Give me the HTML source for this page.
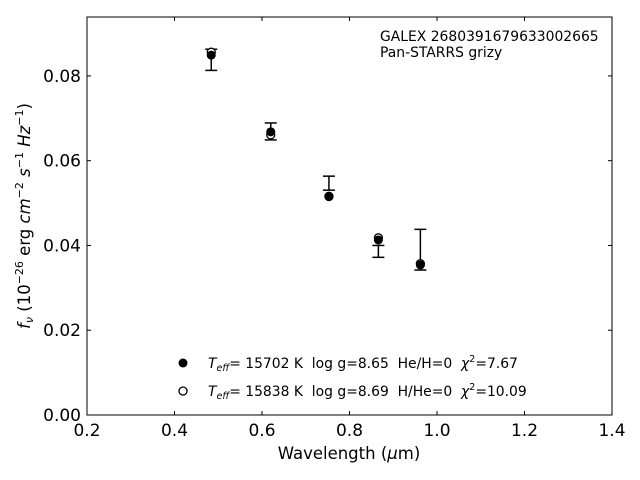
<!DOCTYPE html>
<html><head><meta charset="utf-8"><style>
html,body{margin:0;padding:0;background:#fff;}
svg{display:block;font-family:"DejaVu Sans","Liberation Sans",sans-serif;}
</style></head><body>
<svg id="chart" width="640" height="480" viewBox="0 0 640 480">
<rect x="87" y="17" width="525" height="398" fill="none" stroke="#000" stroke-width="1"/>
<g id="ticks"></g>
<g id="marks"></g>
<text x="349" y="459" font-size="16.5" text-anchor="middle">Wavelength (<tspan font-style="italic">μ</tspan>m)</text>
<text transform="translate(30,216) rotate(-90)" font-size="16.5" text-anchor="middle"><tspan font-style="italic">f<tspan font-size="11" dy="3">ν</tspan></tspan><tspan dy="-3"> (10</tspan><tspan font-size="11" dy="-7">−26</tspan><tspan dy="7"> erg </tspan><tspan font-style="italic">cm</tspan><tspan font-size="11" dy="-7">−2</tspan><tspan dy="7"> </tspan><tspan font-style="italic">s</tspan><tspan font-size="11" dy="-7">−1</tspan><tspan dy="7"> </tspan><tspan font-style="italic">Hz</tspan><tspan font-size="11" dy="-7">−1</tspan><tspan dy="7">)</tspan></text>
<text x="380" y="41" font-size="13.9">GALEX 2680391679633002665</text>
<text x="380" y="57" font-size="13.9">Pan-STARRS grizy</text>
<g>
<circle cx="183" cy="363" r="4.5" fill="#000"/>
<text x="208" y="368" font-size="13.9"><tspan font-style="italic">T</tspan><tspan font-style="italic" font-size="9.5" dy="3">eff</tspan><tspan dy="-3">= 15702 K&#160; log g=8.65&#160; He/H=0&#160; </tspan><tspan font-style="italic">χ</tspan><tspan font-size="9.5" dy="-6">2</tspan><tspan dy="6">=7.67</tspan></text>
<circle cx="183" cy="391" r="4" fill="#fff" stroke="#000" stroke-width="1.3"/>
<text x="208" y="396" font-size="13.9"><tspan font-style="italic">T</tspan><tspan font-style="italic" font-size="9.5" dy="3">eff</tspan><tspan dy="-3">= 15838 K&#160; log g=8.69&#160; H/He=0&#160; </tspan><tspan font-style="italic">χ</tspan><tspan font-size="9.5" dy="-6">2</tspan><tspan dy="6">=10.09</tspan></text>
</g>
</svg>
<script>
const wavelengths = [0.484, 0.620, 0.753, 0.866, 0.962];
const observedFlux = [0.0838, 0.0669, 0.0547, 0.0386, 0.0390];
const observedErr = [0.0025, 0.0020, 0.00165, 0.0014, 0.0048];
const modelHeH = [0.0849, 0.0668, 0.0515, 0.0413, 0.0354];
const modelHHe = [0.0856, 0.0661, 0.0516, 0.0418, 0.0357];
const xTicks = [0.2, 0.4, 0.6, 0.8, 1.0, 1.2, 1.4];
const xTickLabels = ["0.2","0.4","0.6","0.8","1.0","1.2","1.4"];
const yTicks = [0, 0.02, 0.04, 0.06, 0.08];
const yTickLabels = ["0.00","0.02","0.04","0.06","0.08"];

const NS = "http://www.w3.org/2000/svg";
const X0=87, X1=612, Y0=415, Y1=17;
const xMin=0.2, xMax=1.4, yMin=0, yMax=0.0939;
const sx = v => X0 + (v - xMin) / (xMax - xMin) * (X1 - X0);
const sy = v => Y0 - (v - yMin) / (yMax - yMin) * (Y0 - Y1);
function mk(tag, attrs, parent){const e=document.createElementNS(NS,tag);for(const k in attrs)e.setAttribute(k,attrs[k]);parent.appendChild(e);return e;}
const tg=document.getElementById('ticks'), mg=document.getElementById('marks');

xTicks.forEach((t,i)=>{
  const x=sx(t);
  const a=mk('line',{x1:x,x2:x,y1:Y0,y2:Y0-4,stroke:'#000'},tg);
   
  const b=mk('line',{x1:x,x2:x,y1:Y1,y2:Y1+4,stroke:'#000'},tg);
   
  const l=mk('text',{x:x,y:Y0+21,'font-size':17,'text-anchor':'middle'},tg);
  l.textContent=xTickLabels[i];
   
});
yTicks.forEach((t,i)=>{
  const y=sy(t);
  const a=mk('line',{x1:X0,x2:X0+4,y1:y,y2:y,stroke:'#000'},tg);
   
  const b=mk('line',{x1:X1,x2:X1-4,y1:y,y2:y,stroke:'#000'},tg);
   
  const l=mk('text',{x:X0-6,y:y+6,'font-size':17,'text-anchor':'end'},tg);
  l.textContent=yTickLabels[i];
   
});
wavelengths.forEach((w,i)=>{
  const x=sx(w), yt=sy(observedFlux[i]+observedErr[i]), yb=sy(observedFlux[i]-observedErr[i]);
  const g=mk('g',{stroke:'#000','stroke-width':1.5},mg);
   
  mk('line',{x1:x,x2:x,y1:yt,y2:yb},g);
  mk('line',{x1:x-6,x2:x+6,y1:yt,y2:yt},g);
  mk('line',{x1:x-6,x2:x+6,y1:yb,y2:yb},g);
});
wavelengths.forEach((w,i)=>{
  const c=mk('circle',{cx:sx(w),cy:sy(modelHHe[i]),r:4,fill:'#fff',stroke:'#000','stroke-width':1.3},mg);
   
});
wavelengths.forEach((w,i)=>{
  const c=mk('circle',{cx:sx(w),cy:sy(modelHeH[i]),r:4.5,fill:'#000'},mg);
   
});
</script>
</body></html>
